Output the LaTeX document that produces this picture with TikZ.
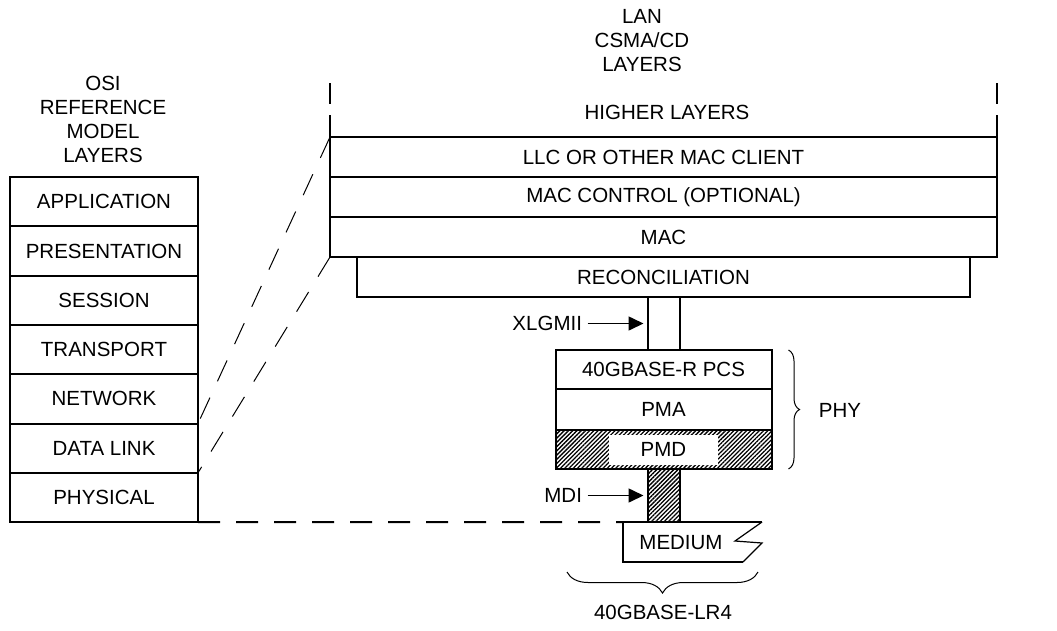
\documentclass[tikz,border=0pt]{standalone}
\usepackage{fontspec}
\setmainfont{Liberation Sans}
\usetikzlibrary{arrows.meta,positioning,patterns.meta,decorations.pathreplacing}

\begin{document}
\begin{tikzpicture}[x=1pt,y=-1pt,font=\fontsize{20.5}{24}\selectfont,
  osibox/.style={draw,line width=2pt,inner sep=0pt,outer sep=0pt,minimum width=188pt,minimum height=49.3pt},
  lanbox/.style={draw,line width=2pt,inner sep=0pt,outer sep=0pt,minimum width=#1,minimum height=40pt},
  phybox/.style={draw,line width=2pt,inner sep=0pt,outer sep=0pt,minimum width=216pt,minimum height=#1},
  stalk/.style={draw,line width=2pt,inner sep=0pt,outer sep=0pt,minimum width=32pt,minimum height=#1},
  hatched/.style={pattern={Lines[angle=45,distance=3pt,line width=1.3pt]},pattern color=black},
  sigarrow/.style={-{Triangle[length=15pt,width=14pt]},line width=1.6pt,shorten <=2pt,shorten >=4pt},
  mapline/.style={line width=1pt,dash pattern=on 23pt off 18pt},
  curly/.style={decorate,decoration={brace,amplitude=#1},line width=1pt}]
  \useasboundingbox (0,0) rectangle (1057,630);
  % osi model
  \node[align=center] (osititle) at (103,119) {OSI\\REFERENCE\\MODEL\\LAYERS};
  \node[osibox] (osi1) at (104,201.65) {APPLICATION};
  \node[osibox,below=0pt of osi1] (osi2) {PRESENTATION};
  \node[osibox,below=0pt of osi2] (osi3) {SESSION};
  \node[osibox,below=0pt of osi3] (osi4) {TRANSPORT};
  \node[osibox,below=0pt of osi4] (osi5) {NETWORK};
  \node[osibox,below=0pt of osi5] (osi6) {DATA LINK};
  \node[osibox,below=0pt of osi6] (osi7) {PHYSICAL};
  % lan layers
  \node[align=center] (lantitle) at (642,41) {LAN\\CSMA/CD\\LAYERS};
  \node (higher) at (667,112) {HIGHER LAYERS};
  \node[lanbox=667pt] (llc) at (663.5,157) {LLC OR OTHER MAC CLIENT};
  \node[lanbox=667pt,below=0pt of llc] (macctl) {MAC CONTROL (OPTIONAL)};
  \node[lanbox=667pt,below=0pt of macctl] (mac) {MAC};
  \node[lanbox=613pt,below=0pt of mac] (recon) {RECONCILIATION};
  \draw[line width=2pt,dash pattern=on 21pt off 11pt on 40pt off 0pt] ([yshift=54pt]llc.north west) -- (llc.north west);
  \draw[line width=2pt,dash pattern=on 21pt off 11pt on 40pt off 0pt] ([yshift=54pt]llc.north east) -- (llc.north east);
  % phy
  \node[stalk=53pt,below=0pt of recon] (xlgmii) {};
  \node[phybox=39pt,below=0pt of xlgmii] (pcs) {40GBASE-R PCS};
  \node[phybox=41pt,below=0pt of pcs] (pma) {PMA};
  \node[phybox=39pt,hatched,below=0pt of pma] (pmd) {};
  \node[fill=white,inner sep=0pt,minimum width=109pt,minimum height=30pt] (pmdlabel) at (pmd) {PMD};
  \node[stalk=53pt,hatched,below=0pt of pmd] (mdi) {};
  \node[left=62pt of xlgmii] (xlglabel) {XLGMII};
  \node[left=62pt of mdi] (mdilabel) {MDI};
  \draw[sigarrow] (xlglabel) -- (xlgmii);
  \draw[sigarrow] (mdilabel) -- (mdi);
  % medium
  \coordinate (medtl) at (623,522);
  \draw[line width=2pt] (762,522) -- (medtl) -- (623,562) -- (743,562);
  \draw[line width=1.2pt] (762,522) -- (735,541) -- (762,543) -- (743,562);
  \node (medium) at (681,543) {MEDIUM};
  % braces
  \draw[curly=11pt] ([xshift=17pt]pcs.north east) -- ([xshift=17pt]pmd.south east);
  \node (phy) at (840,410) {PHY};
  \draw[curly=21pt] (758,572) -- (567,572);
  \node (lr4) at (663,612) {40GBASE-LR4};
  % mapping
  \draw[mapline] (llc.north west) -- (osi5.south east);
  \draw[mapline] (mac.south west) -- (osi6.south east);
  \draw[line width=2pt,dash pattern=on 22pt off 16pt] (osi7.south east) -- (medtl);
\end{tikzpicture}
\end{document}
